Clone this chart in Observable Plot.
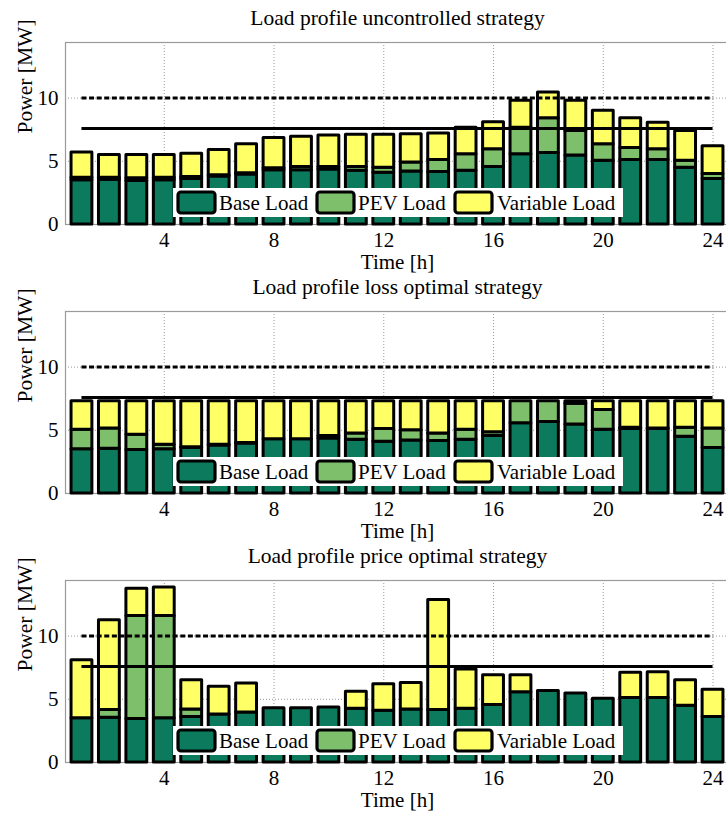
<!DOCTYPE html>
<html>
<head>
<meta charset="utf-8">
<script src="https://cdn.jsdelivr.net/npm/d3@7"></script>
<script src="https://cdn.jsdelivr.net/npm/@observablehq/plot@0.6"></script>
<style>
  body { margin: 0; background: #fff; }
  #chart { width: 726px; }
  #chart svg { display: block; }
</style>
</head>
<body>
<div id="chart"></div>
<script>
// ---- data ----
const hours = [1,2,3,4,5,6,7,8,9,10,11,12,13,14,15,16,17,18,19,20,21,22,23,24];
const baseLoad = [3.5,3.55,3.45,3.5,3.6,3.8,3.95,4.3,4.3,4.35,4.25,4.1,4.2,4.15,4.25,4.55,5.55,5.65,5.45,5.05,5.1,5.1,4.5,3.6];

const pevUncontrolled = [0.2,0.15,0.2,0.2,0.15,0.1,0.1,0.15,0.25,0.2,0.3,0.4,0.7,0.95,1.3,1.4,2.1,2.75,1.95,1.3,0.95,0.85,0.55,0.4];
const varUncontrolled = [2.0,1.8,1.85,1.8,1.85,2.0,2.3,2.4,2.4,2.5,2.55,2.6,2.25,2.1,2.1,2.15,2.15,2.05,2.4,2.65,2.35,2.1,2.35,2.2];

const pevLoss = [1.55,1.6,1.2,0.35,0.05,0.05,0.05,0,0,0.2,0.5,1.0,0.8,0.6,0.8,0.3,1.75,1.65,1.65,1.55,0.1,0.05,0.7,1.55];
const varLoss = [2.25,2.15,2.65,3.45,3.65,3.45,3.3,3.0,3.0,2.75,2.55,2.2,2.3,2.55,2.25,2.45,0,0,0.2,0.7,2.1,2.15,2.1,2.15];

const pevPrice = [0,0.6,8.15,8.1,0.6,0,0,0,0,0,0,0,0,0,0,0,0,0,0,0,0,0,0,0];
const varPrice = [4.6,7.1,2.15,2.25,2.3,2.2,2.3,0,0,0,1.35,2.1,2.1,8.7,3.1,2.35,1.35,0,0,0,2.0,2.05,2.0,2.15];

const panelTitles = ["Load profile uncontrolled strategy", "Load profile loss optimal strategy", "Load profile price optimal strategy"];
const seriesNames = ["Base Load", "PEV Load", "Variable Load"];
const seriesColors = ["#0b7a5d", "#7dbf6b", "#ffff66"];
const xTicks = [4, 8, 12, 16, 20, 24];
const yTicks = [0, 5, 10];
const limitDashed = 10;
const limitSolid = 7.6;
const xLabel = "Time [h]";
const yLabel = "Power [MW]";

const panels = [
  {title: panelTitles[0], pev: pevUncontrolled, vari: varUncontrolled},
  {title: panelTitles[1], pev: pevLoss, vari: varLoss},
  {title: panelTitles[2], pev: pevPrice, vari: varPrice}
];

// layout (pixels)
const FONT = "'Liberation Serif', 'Times New Roman', Times, serif";
const W = 726;
const PLOT_H = 182;
const layout = [
  {height: 274, top: 42},
  {height: 269, top: 37},
  {height: 271, top: 37}
];
const barHalf = 0.38;

function makePanel(p, L) {
  const rows = [];
  hours.forEach((h, i) => {
    const parts = [baseLoad[i], p.pev[i], p.vari[i]];
    let acc = 0;
    parts.forEach((v, k) => {
      if (v > 0) rows.push({hour: h, series: seriesNames[k], y1: acc, y2: acc + v});
      acc += v;
    });
  });

  const plot = Plot.plot({
    width: W,
    height: L.height,
    marginLeft: 65,
    marginRight: -3,
    marginTop: L.top,
    marginBottom: L.height - L.top - PLOT_H,
    style: {fontFamily: FONT, fontSize: "21px", background: "#fff", color: "#000", overflow: "visible"},
    x: {type: "linear", domain: [0.4, 24.6]},
    y: {domain: [0, 14.4]},
    color: {domain: seriesNames, range: seriesColors},
    marks: [
      Plot.gridX(xTicks, {stroke: "#9a9a9a", strokeOpacity: 1, strokeDasharray: "1,2"}),
      Plot.gridY([5, 10], {stroke: "#9a9a9a", strokeOpacity: 1, strokeDasharray: "1,2"}),
      Plot.frame({stroke: "#9a9a9a", strokeWidth: 1.2}),
      Plot.rectY(rows, {
        x1: d => d.hour - barHalf, x2: d => d.hour + barHalf,
        y1: "y1", y2: "y2",
        fill: "series", stroke: "#000", strokeWidth: 3, strokeLinejoin: "round"
      }),
      Plot.ruleY([limitDashed], {x1: hours[0], x2: hours[hours.length - 1], stroke: "#000", strokeWidth: 3, strokeDasharray: "5,2.6"}),
      Plot.ruleY([limitSolid], {x1: hours[0], x2: hours[hours.length - 1], stroke: "#000", strokeWidth: 3}),
      Plot.axisX(xTicks, {tickSize: 0, tickPadding: 8, label: null, fontSize: 21}),
      Plot.axisY(yTicks, {tickSize: 0, tickPadding: 7, label: null, fontSize: 21}),
      Plot.text([xLabel], {frameAnchor: "bottom", dy: 38, text: d => d, fontSize: 21, lineAnchor: "middle"}),
      Plot.text([yLabel], {frameAnchor: "left", dx: -40, rotate: -90, text: d => d, fontSize: 21.5, lineAnchor: "middle"}),
      Plot.text([p.title], {frameAnchor: "top", dy: -24, text: d => d, fontSize: 21.5, lineAnchor: "middle"})
    ]
  });

  // legend (drawn on top, inside the plot area)
  const svg = d3.select(plot);
  const lgTop = L.top + 146;
  const lg = svg.append("g").attr("font-family", FONT).attr("font-size", 21).attr("text-anchor", "start");
  lg.append("rect").attr("x", 173).attr("y", lgTop).attr("width", 450).attr("height", 29).attr("fill", "#fff");
  const items = [
    {sx: 178, tx: 219},
    {sx: 317, tx: 358},
    {sx: 455, tx: 497}
  ];
  items.forEach((it, k) => {
    lg.append("rect").attr("x", it.sx).attr("y", lgTop + 4).attr("width", 37).attr("height", 21)
      .attr("rx", 3).attr("fill", seriesColors[k]).attr("stroke", "#000").attr("stroke-width", 3.2);
    lg.append("text").attr("x", it.tx).attr("y", lgTop + 15).attr("dy", "0.35em").text(seriesNames[k]);
  });
  return plot;
}

const container = document.getElementById("chart");
panels.forEach((p, i) => container.appendChild(makePanel(p, layout[i])));
</script>
</body>
</html>
